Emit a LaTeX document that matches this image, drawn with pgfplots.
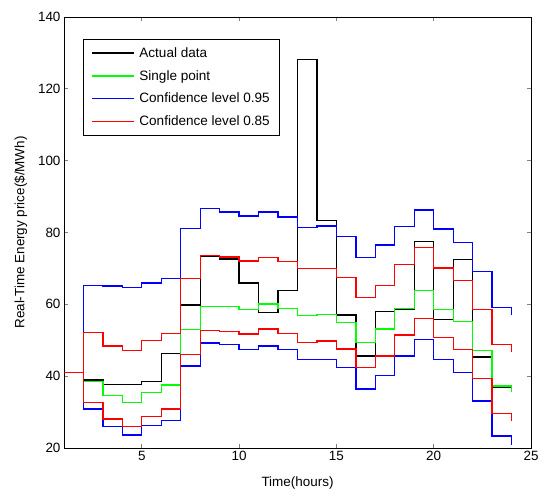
\documentclass[border=0pt]{standalone}
\usepackage{pgfplots}
\pgfplotsset{compat=1.18}
\usepackage{fontspec}
\setmainfont{Liberation Sans}
\definecolor{mgreen}{rgb}{0,1,0}
\definecolor{mblue}{rgb}{0,0,1}
\definecolor{mred}{rgb}{1,0,0}
\begin{document}
\begin{tikzpicture}[x=1bp,y=1bp]
\begin{axis}[
  scale only axis,
  width=467bp, height=431bp,
  xmin=1, xmax=25, ymin=20, ymax=140,
  xtick={5,10,15,20,25},
  ytick={20,40,60,80,100,120,140},
  tick align=inside,
  major tick length=4bp,
  tick style={line width=0.7bp},
  axis line style={line width=0.9bp},
  /pgf/number format/assume math mode=true,
  tick label style={font=\fontsize{13.5}{16}\selectfont},
  label style={font=\fontsize{13.5}{16}\selectfont},
  xlabel={Time(hours)},
  ylabel={Real-Time Energy price(\$/MWh)},
  xlabel style={yshift=-9bp},
  ylabel style={yshift=4bp},
  legend cell align=left,
  legend style={at={(0.04,0.949)}, anchor=north west, draw=black, line width=0.9bp,
    font=\fontsize{13.6}{17}\selectfont, row sep=7.5bp, column sep=3bp, inner xsep=8bp, inner ysep=6bp},
  legend image code/.code={\draw[#1, line width=1.3bp] (0bp,0bp) -- (42bp,0bp);},
]
\addplot[black, const plot, no marks, line width=1.3bp] coordinates {(1,41) (2,38.9) (3,37.6) (4,37.6) (5,38.6) (6,46.4) (7,59.8) (8,73.3) (9,72.6) (10,65.9) (11,57.7) (12,63.8) (13,128.1) (14,83.3) (15,57.0) (16,45.6) (17,58.0) (18,58.6) (19,77.5) (20,55.8) (21,72.4) (22,45.3) (23,37.0) (24,37.0)};
\addlegendentry{Actual data}
\addplot[mgreen, const plot, no marks, line width=1.3bp] coordinates {(1,41) (2,38.6) (3,34.6) (4,32.6) (5,35.5) (6,37.5) (7,52.9) (8,59.4) (9,59.4) (10,58.6) (11,60.1) (12,58.9) (13,56.9) (14,57.2) (15,54.9) (16,49.4) (17,53.1) (18,58.8) (19,63.8) (20,58.6) (21,55.2) (22,47.1) (23,37.3) (24,35.5)};
\addlegendentry{Single point}
\addplot[mblue, const plot, no marks, line width=1.3bp] coordinates {(1,41) (2,65.2) (3,65.1) (4,64.7) (5,65.9) (6,67.1) (7,81.1) (8,86.7) (9,85.7) (10,84.6) (11,85.7) (12,84.3) (13,81.4) (14,81.8) (15,78.9) (16,73.1) (17,76.5) (18,81.6) (19,86.3) (20,81.0) (21,77.2) (22,69.1) (23,59.1) (24,57.0)};
\addlegendentry{Confidence level 0.95}
\addplot[mred, const plot, no marks, line width=1.3bp] coordinates {(1,41) (2,52.2) (3,48.4) (4,47.1) (5,49.9) (6,51.9) (7,67.1) (8,73.5) (9,73.2) (10,72.1) (11,73.0) (12,71.9) (13,69.9) (14,69.9) (15,67.4) (16,61.9) (17,65.2) (18,71.0) (19,75.8) (20,70.1) (21,66.6) (22,58.6) (23,48.9) (24,46.8)};
\addlegendentry{Confidence level 0.85}
\addplot[forget plot, mblue, const plot, no marks, line width=1.3bp] coordinates {(1,41) (2,30.9) (3,25.9) (4,23.6) (5,26.2) (6,27.6) (7,42.8) (8,49.2) (9,48.9) (10,47.5) (11,48.4) (12,47.5) (13,44.7) (14,44.7) (15,42.4) (16,36.4) (17,40.1) (18,45.6) (19,50.3) (20,44.7) (21,41.1) (22,33.1) (23,23.3) (24,20.8)};
\addplot[forget plot, mred, const plot, no marks, line width=1.3bp] coordinates {(1,41) (2,32.6) (3,28.1) (4,25.9) (5,28.7) (6,30.9) (7,46.1) (8,52.7) (9,52.4) (10,51.7) (11,53.1) (12,51.9) (13,49.4) (14,49.8) (15,47.6) (16,42.4) (17,45.6) (18,51.5) (19,56.1) (20,50.8) (21,47.5) (22,39.4) (23,29.7) (24,27.5)};
\end{axis}
\pgfresetboundingbox
\path (current axis.south west) ++(-64bp,-49bp) coordinate (bbA);
\path (current axis.north east) ++(16bp,17bp) coordinate (bbB);
\path[use as bounding box] (bbA) rectangle (bbB);
\end{tikzpicture}
\end{document}
